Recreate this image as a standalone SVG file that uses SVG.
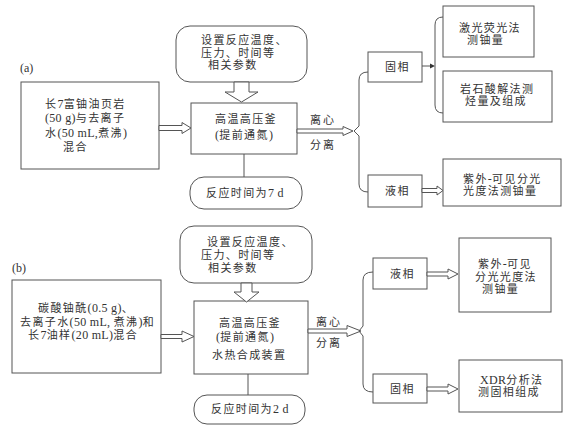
<svg xmlns="http://www.w3.org/2000/svg" width="580" height="429" viewBox="0 0 580 429">
<style>
.b{fill:#fff;stroke:#555;stroke-width:1}
.c{fill:none;stroke:#555;stroke-width:1}
.h{fill:#fff;stroke:#555;stroke-width:1;stroke-linejoin:miter}
text{font-family:"Liberation Serif","Noto Sans CJK SC",serif;font-size:11px;fill:#333;letter-spacing:1.4px}
.l{letter-spacing:0.3px;font-size:12px}
.lb{font-size:12px;letter-spacing:0}
.s{letter-spacing:2px}
</style>
<rect width="580" height="429" fill="#fff"/>
<!-- Panel (a) -->
<text class="lb" x="20" y="72">(a)</text>
<g id="a-input"><rect class="b" x="21" y="82" width="138" height="87"/>
<text x="45" y="108">长<tspan class="l">7</tspan>富铀油页岩</text><text x="45" y="122"><tspan class="l">(50 g)</tspan>与去离子</text><text x="45" y="137">水<tspan class="l">(50 mL,</tspan>煮沸<tspan class="l">)</tspan></text><text x="63" y="151">混合</text></g>
<g id="a-params"><rect class="b" x="176" y="26" width="131" height="56" rx="14"/>
<text x="201" y="44">设置反应温度、</text><text x="201" y="57">压力、时间等</text><text x="208" y="69">相关参数</text></g>
<g id="a-reactor"><rect class="b" x="191" y="103" width="106" height="51"/>
<text x="215" y="123">高温高压釜</text><text x="215" y="139"><tspan class="l">(</tspan>提前通氮<tspan class="l">)</tspan></text></g>
<g id="a-time"><rect class="b" x="190" y="177" width="112" height="32" rx="14"/>
<text x="206" y="197">反应时间为<tspan class="l">7 d</tspan></text></g>
<g id="a-solid"><rect class="b" x="368" y="52" width="54" height="30"/><text x="385" y="71">固相</text></g>
<g id="a-liquid"><rect class="b" x="368" y="175" width="54" height="32"/><text x="385" y="195">液相</text></g>
<g id="a-laser"><rect class="b" x="443" y="6" width="91" height="51"/><text x="459" y="32">激光荧光法</text><text x="467" y="44">测铀量</text></g>
<g id="a-rock"><rect class="b" x="443" y="71" width="109" height="51"/><text x="460" y="93">岩石酸解法测</text><text x="465" y="105">烃量及组成</text></g>
<g id="a-uv"><rect class="b" x="443" y="159" width="118" height="47"/><text x="463" y="183">紫外<tspan class="l">-</tspan>可见分光</text><text x="463" y="195">光度法测铀量</text></g>
<!-- Panel (b) -->
<text class="lb" x="12" y="272">(b)</text>
<g id="b-input"><rect class="b" x="12" y="280" width="149" height="93"/>
<text x="38" y="312">碳酸铀酰<tspan class="l">(0.5 g)</tspan>、</text><text x="20" y="325.5">去离子水<tspan class="l">(50 mL, </tspan>煮沸<tspan class="l">)</tspan>和</text><text x="28" y="339">长<tspan class="l">7</tspan>油样<tspan class="l">(20 mL)</tspan>混合</text></g>
<g id="b-params"><rect class="b" x="180" y="226" width="132" height="57" rx="14"/>
<text x="207" y="246">设置反应温度、</text><text x="201" y="259">压力、时间等</text><text x="208" y="272">相关参数</text></g>
<g id="b-reactor"><rect class="b" x="194" y="301" width="114" height="73"/>
<text x="219" y="327">高温高压釜</text><text x="216" y="341"><tspan class="l">(</tspan>提前通氮<tspan class="l">)</tspan></text><text x="212" y="359">水热合成装置</text></g>
<g id="b-time"><rect class="b" x="194" y="395" width="111" height="29" rx="13"/>
<text x="211" y="413">反应时间为<tspan class="l">2 d</tspan></text></g>
<g id="b-liquid"><rect class="b" x="373" y="258" width="54" height="31"/><text x="390" y="278">液相</text></g>
<g id="b-solid"><rect class="b" x="373" y="374" width="54" height="29"/><text x="390" y="393">固相</text></g>
<g id="b-uv"><rect class="b" x="459" y="238" width="92" height="74"/><text x="478" y="268">紫外<tspan class="l">-</tspan>可见</text><text x="475" y="280.5">分光光度法</text><text x="482" y="293">测铀量</text></g>
<g id="b-xdr"><rect class="b" x="459" y="360" width="103" height="52"/><text x="480" y="384"><tspan class="l">XDR</tspan>分析法</text><text x="478" y="396">测固相组成</text></g>
<!-- connectors -->
<g id="connectors">
<polygon class="h" points="234,82 249,82 249,92 258,92 241.5,102 225,92 234,92"/>
<polygon class="h" points="159,125.5 182,125.5 182,122.5 191,128 182,133.5 182,130.5 159,130.5"/>
<line class="c" x1="244" y1="154" x2="244" y2="177"/>
<polygon class="h" points="297,129 343,129 343,126.5 353,131 343,135.5 343,133 297,133"/>
<path class="c" d="M368,72 Q359,72 359,80 V126 L354,131 L359,136 V184 Q359,192 368,192"/>
<text class="s" x="310" y="124">离心</text>
<text class="s" x="310" y="149">分离</text>
<line class="c" x1="422" y1="66" x2="431" y2="66"/>
<polygon points="430,63.5 435,66 430,68.5" fill="#333"/>
<path class="c" d="M443,17 Q435,17 435,25 V105 Q435,113 443,113"/>
<polygon class="h" points="422,188.5 437,188.5 437,186 443,190.5 437,195 437,192.5 422,192.5"/>
<polygon class="h" points="241,283 252,283 252,292 259,292 246.5,302 234,292 241,292"/>
<polygon class="h" points="161,334.5 182,334.5 182,331 194,336.5 182,342 182,338.5 161,338.5"/>
<line class="c" x1="248" y1="374" x2="248" y2="395"/>
<polygon class="h" points="308,329 347,329 347,325.5 361,331 347,336.5 347,333 308,333"/>
<path class="c" d="M373,272 Q363,272 363,280 V326 L359,331 L363,336 V384 Q363,392 373,392"/>
<text class="s" x="316" y="326">离心</text>
<text class="s" x="316" y="347">分离</text>
<polygon class="h" points="427,272 448,272 448,269 458,274 448,279 448,276 427,276"/>
<polygon class="h" points="427,387 448,387 448,384 458,389 448,394 448,391 427,391"/>
</g>
</svg>
